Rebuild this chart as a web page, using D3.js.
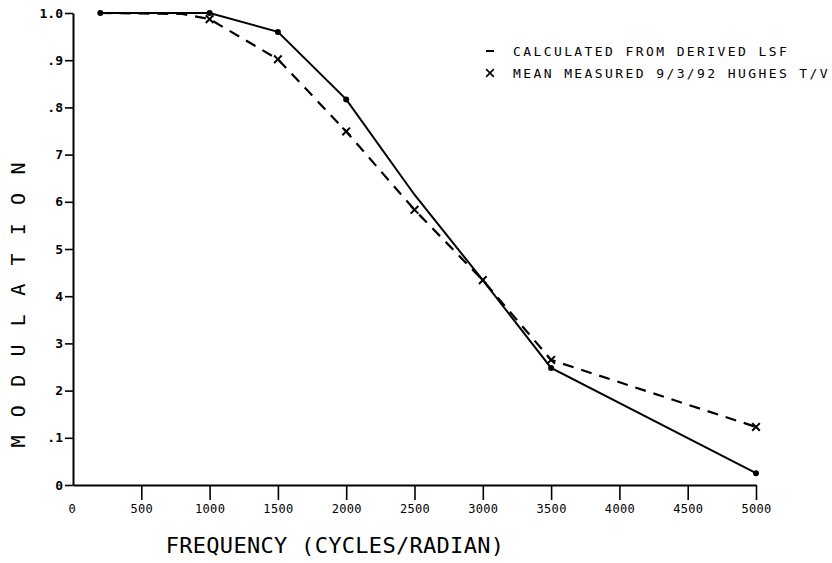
<!DOCTYPE html>
<html>
<head>
<meta charset="utf-8">
<script src="https://cdn.jsdelivr.net/npm/d3@7/dist/d3.min.js"></script>
<style>
  html, body { margin: 0; padding: 0; background: #fff; }
  svg text { font-family: "DejaVu Sans Mono", monospace; fill: #000; }
</style>
</head>
<body>
<svg id="chart" width="832" height="563"></svg>
<script>
// Frequency samples (cycles/radian)
const calcFreq  = [200, 1000, 1500, 2000, 2500, 3000, 3500, 5000];
const calcMTF   = [1.0, 1.0, 0.960, 0.817, 0.615, 0.434, 0.248, 0.025];
const measFreq  = [200, 800, 1000, 1500, 2000, 2500, 3000, 3500, 5000];
const measMTF   = [1.0, 0.998, 0.987, 0.902, 0.749, 0.583, 0.434, 0.265, 0.123];
const calcDots  = [200, 1000, 1500, 2000, 3500, 5000];
const measCross = [1000, 1500, 2000, 2500, 3000, 3500, 5000];

const xTicks      = [0, 500, 1000, 1500, 2000, 2500, 3000, 3500, 4000, 4500, 5000];
const xTickLabels = ["0", "500", "1000", "1500", "2000", "2500", "3000", "3500", "4000", "4500", "5000"];
const yTicks      = [0, 0.1, 0.2, 0.3, 0.4, 0.5, 0.6, 0.7, 0.8, 0.9, 1.0];
const yTickLabels = ["0", ".1", "2", "3", "4", "5", "6", "7", ".8", ".9", "1.0"];

const legendLabels = ["CALCULATED FROM DERIVED LSF", "MEAN MEASURED 9/3/92 HUGHES T/V"];
const xTitle = "FREQUENCY (CYCLES/RADIAN)";
const yTitle = "MODULATION";

const svg = d3.select("#chart");
const x = d3.scaleLinear().domain([0, 5000]).range([73, 756]);
const y = d3.scaleLinear().domain([0, 1]).range([485, 13]);

// Axes
const xAxis = d3.axisBottom(x)
  .tickValues(xTicks.slice(1))
  .tickFormat((d) => xTickLabels[xTicks.indexOf(d)])
  .tickSize(15).tickSizeOuter(0).tickPadding(4);
const gx = svg.append("g").attr("transform", `translate(0,${y(0)})`).call(xAxis);
gx.select(".domain").attr("stroke-width", 2);
gx.selectAll(".tick line").attr("stroke-width", 1.6);
gx.selectAll(".tick text").attr("font-size", 12).attr("letter-spacing", 0.3);
// zero label on the x axis
svg.append("text").attr("x", x(0) - 1).attr("y", y(0) + 19).attr("dy", "0.71em")
  .attr("text-anchor", "middle").attr("font-size", 12).text(xTickLabels[0]);

const yAxis = d3.axisLeft(y)
  .tickValues(yTicks)
  .tickFormat((d, i) => yTickLabels[i])
  .tickSize(8).tickSizeOuter(0).tickPadding(2);
const gy = svg.append("g").attr("transform", `translate(${x(0)},0)`).call(yAxis);
gy.select(".domain").attr("stroke-width", 2);
gy.selectAll(".tick line").attr("stroke-width", 1.6);
gy.selectAll(".tick text").attr("font-size", 13).attr("font-weight", "bold");

// Curves
const line = d3.line().x((d) => x(d[0])).y((d) => y(d[1]));
svg.append("path")
  .datum(calcFreq.map((f, i) => [f, calcMTF[i]]))
  .attr("d", line).attr("fill", "none").attr("stroke", "#000").attr("stroke-width", 2);
svg.append("path")
  .datum(measFreq.map((f, i) => [f, measMTF[i]]))
  .attr("d", line).attr("fill", "none").attr("stroke", "#000").attr("stroke-width", 2.2)
  .attr("stroke-dasharray", "11,8");

// Markers
svg.selectAll("circle.calc").data(calcDots).enter().append("circle")
  .attr("cx", (f) => x(f)).attr("cy", (f) => y(calcMTF[calcFreq.indexOf(f)]))
  .attr("r", 3).attr("fill", "#000");
const cross = d3.symbol().type(d3.symbolX).size(40);
svg.selectAll("path.meas").data(measCross).enter().append("path")
  .attr("d", cross)
  .attr("transform", (f) => `translate(${x(f)},${y(measMTF[measFreq.indexOf(f)])})`)
  .attr("fill", "none").attr("stroke", "#000").attr("stroke-width", 2);

// Legend
const lg = svg.append("g");
lg.append("line").attr("x1", 486).attr("x2", 494).attr("y1", 51).attr("y2", 51)
  .attr("stroke", "#000").attr("stroke-width", 2);
lg.append("path").attr("d", d3.symbol().type(d3.symbolX).size(40))
  .attr("transform", "translate(490,73)").attr("fill", "none")
  .attr("stroke", "#000").attr("stroke-width", 1.6);
lg.selectAll("text").data(legendLabels).enter().append("text")
  .attr("x", 513).attr("y", (d, i) => 56 + i * 22)
  .attr("font-size", 13).attr("letter-spacing", 2.4).text((d) => d);

// Axis titles
svg.append("text").attr("x", 335).attr("y", 553).attr("text-anchor", "middle")
  .attr("font-size", 22).attr("letter-spacing", 0.3).text(xTitle);
svg.append("text").attr("transform", "translate(25,305) rotate(-90)")
  .attr("text-anchor", "middle").attr("font-size", 20)
  .attr("textLength", 285).attr("lengthAdjust", "spacing").text(yTitle);
</script>
</body>
</html>
